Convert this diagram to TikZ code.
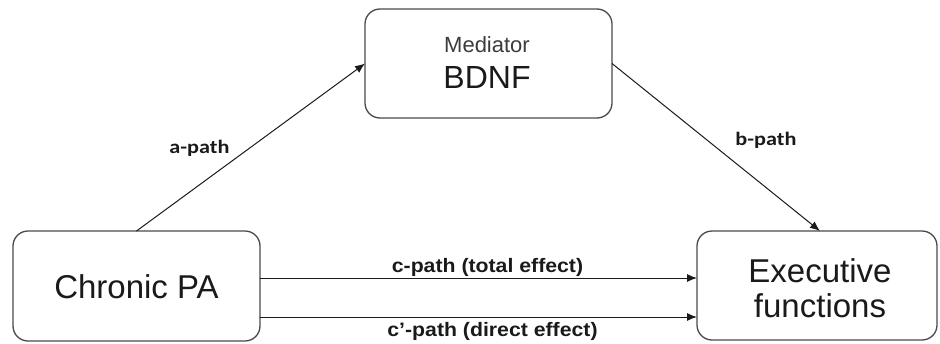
\documentclass[tikz,border=0pt]{standalone}
\usepackage{fontspec}
\setmainfont{Liberation Sans}
\newfontfamily\pathfont[FakeStretch=1.17]{Carlito}
\newfontfamily\effectfont[FakeStretch=1.09]{Liberation Sans}
\usetikzlibrary{arrows.meta}
\definecolor{boxline}{HTML}{4A4A4A}
\definecolor{ink}{HTML}{1A1A1A}
\tikzset{
  varbox/.style={draw=boxline, line width=1.3pt, rounded corners=15pt,
    fill=white, inner sep=0pt, outer sep=0pt},
  bigtext/.style={anchor=base, text=ink, font=\fontsize{33}{35}\selectfont, inner sep=0pt},
  link/.style={draw=ink, line width=1pt, -{Latex[length=10pt,width=8pt]}},
  abtag/.style={anchor=base, text=ink, inner sep=0pt,
    font=\pathfont\bfseries\fontsize{19}{22}\selectfont},
  ctag/.style={anchor=base, text=ink, inner sep=0pt,
    font=\effectfont\bfseries\fontsize{19.5}{22}\selectfont},
}
\begin{document}
\begin{tikzpicture}[x=1pt, y=-1pt]
  \useasboundingbox (0,0) rectangle (940,343);

  % variable boxes
  \node[varbox, minimum width=247pt, minimum height=109pt] (bdnf) at (488.5,63.5) {};
  \node[varbox, minimum width=247pt, minimum height=110pt] (chronic) at (136.5,286) {};
  \node[varbox, minimum width=240pt, minimum height=109pt] (exec) at (817,285.5) {};

  % box texts
  \node[anchor=base, text=ink!85, inner sep=0pt, font=\fontsize{22}{24}\selectfont] (medtxt) at (487,52) {Mediator};
  \node[bigtext, font=\fontsize{32}{34}\selectfont] (bdnftxt) at (487,88) {BDNF};
  \node[bigtext] (chrtxt) at (136.5,298) {Chronic PA};
  \node[bigtext] (exectxt1) at (820,282) {Executive};
  \node[bigtext] (exectxt2) at (820,317) {functions};

  % paths
  \draw[link] (chronic.north) -- (bdnf.west);
  \draw[link] (bdnf.east) -- ([xshift=3pt]exec.north);
  \draw[link] ([yshift=8pt]chronic.east) -- ([yshift=7.5pt]exec.west);
  \draw[link] ([yshift=-31pt]chronic.east) -- ([yshift=-31.5pt]exec.west);

  % path labels
  \node[abtag] (alab) at (199.5,153) {a-path};
  \node[abtag] (blab) at (766,145) {b-path};
  \node[ctag] (clab) at (487.5,272) {c-path (total effect)};
  \node[ctag] (cplab) at (492.5,336.5) {c’-path (direct effect)};
\end{tikzpicture}
\end{document}
